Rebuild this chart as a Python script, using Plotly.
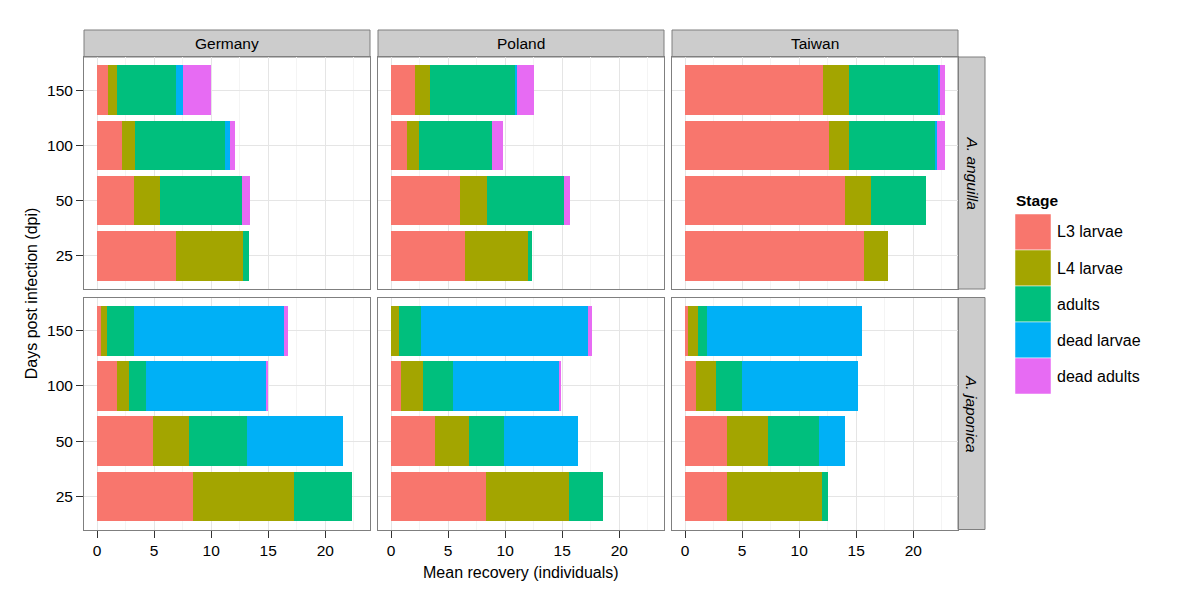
import plotly.graph_objects as go

# ---------------- data ----------------
stages = ["L3 larvae", "L4 larvae", "adults", "dead larvae", "dead adults"]
stage_colors = ["#F8766D", "#A3A500", "#00BF7D", "#00B0F6", "#E76BF3"]
dpi = ["25", "50", "100", "150"]
countries = ["Germany", "Poland", "Taiwan"]
hosts = ["A. anguilla", "A. japonica"]
x_ticks = [0, 5, 10, 15, 20]

# each panel: one list per stage, values for dpi 25, 50, 100, 150
germany_anguilla = [
    [6.95, 3.27, 2.19, 0.93],
    [5.81, 2.28, 1.17, 0.79],
    [0.52, 7.18, 7.88, 5.23],
    [0.00, 0.00, 0.38, 0.55],
    [0.00, 0.70, 0.49, 2.45],
]
poland_anguilla = [
    [6.50, 6.03, 1.43, 2.14],
    [5.54, 2.40, 1.03, 1.29],
    [0.35, 6.77, 6.38, 7.40],
    [0.00, 0.00, 0.00, 0.24],
    [0.00, 0.44, 0.94, 1.43],
]
taiwan_anguilla = [
    [15.64, 14.00, 12.66, 12.05],
    [2.17, 2.26, 1.67, 2.28],
    [0.00, 4.85, 7.63, 7.89],
    [0.00, 0.00, 0.09, 0.08],
    [0.00, 0.00, 0.73, 0.48],
]
germany_japonica = [
    [8.44, 4.90, 1.78, 0.35],
    [8.84, 3.13, 1.02, 0.53],
    [5.08, 5.14, 1.49, 2.36],
    [0.00, 8.38, 10.54, 13.14],
    [0.00, 0.00, 0.09, 0.35],
]
poland_japonica = [
    [8.35, 3.87, 0.85, 0.02],
    [7.23, 2.98, 1.96, 0.65],
    [3.01, 3.08, 2.58, 1.97],
    [0.00, 6.44, 9.37, 14.64],
    [0.00, 0.00, 0.12, 0.35],
]
taiwan_japonica = [
    [3.65, 3.71, 0.96, 0.23],
    [8.31, 3.54, 1.79, 0.94],
    [0.55, 4.45, 2.22, 0.76],
    [0.00, 2.28, 10.21, 13.57],
    [0.00, 0.00, 0.00, 0.00],
]
panels = [
    [germany_anguilla, poland_anguilla, taiwan_anguilla],
    [germany_japonica, poland_japonica, taiwan_japonica],
]

# ---------------- layout geometry (page pixels) ----------------
W, H = 1200, 600
OFF = 8  # page body margin offset
col_px = [(84, 370), (378, 664), (672, 958)]
row_px = [(57, 289), (297.5, 529.5)]
strip_top = (30, 57)
strip_right = (958, 985)
FONT = "Liberation Sans, Arial, Helvetica, sans-serif"

def px_x(v):
    return (v - OFF) / W

def px_y(v):
    return 1 - (v - OFF) / H

fig = go.Figure()
layout_axes = {}
for r in range(2):
    for c in range(3):
        idx = r * 3 + c + 1
        xa = "x" if idx == 1 else f"x{idx}"
        ya = "y" if idx == 1 else f"y{idx}"
        data = panels[r][c]
        for s, stage in enumerate(stages):
            fig.add_trace(go.Bar(
                x=data[s], y=dpi, orientation="h",
                marker=dict(color=stage_colors[s], line=dict(width=0)),
                width=0.9, name=stage, showlegend=False,
                xaxis=xa, yaxis=ya,
            ))
        xkey = "xaxis" if idx == 1 else f"xaxis{idx}"
        ykey = "yaxis" if idx == 1 else f"yaxis{idx}"
        layout_axes[xkey] = dict(
            domain=[px_x(col_px[c][0]), px_x(col_px[c][1])],
            anchor=ya, range=[-1.14, 23.92],
            tickvals=x_ticks, showticklabels=(r == 1),
            ticks="outside" if r == 1 else "", ticklen=7, tickwidth=1, tickcolor="#333333",
            showgrid=True, gridcolor="#e5e5e5", gridwidth=1, zeroline=False,
            minor=dict(tickvals=[2.5, 7.5, 12.5, 17.5, 22.5], showgrid=True,
                       gridcolor="#f4f4f4", gridwidth=1, ticks=""),
            showline=True, mirror=True, linecolor="#7f7f7f", linewidth=1,
            tickfont=dict(family=FONT, size=15.5, color="black"),
            fixedrange=True,
        )
        layout_axes[ykey] = dict(
            domain=[px_y(row_px[r][1]), px_y(row_px[r][0])],
            anchor=xa, type="category", categoryorder="array", categoryarray=dpi,
            range=[-0.6, 3.6], showticklabels=(c == 0),
            ticks="outside" if c == 0 else "", ticklen=7, tickwidth=1, tickcolor="#333333",
            showgrid=True, gridcolor="#e5e5e5", gridwidth=1, zeroline=False,
            showline=True, mirror=True, linecolor="#7f7f7f", linewidth=1,
            tickfont=dict(family=FONT, size=15.5, color="black"),
            fixedrange=True,
        )

shapes = []
annotations = []
# top strips
for c, name in enumerate(countries):
    shapes.append(dict(type="rect", xref="paper", yref="paper",
                       x0=px_x(col_px[c][0]), x1=px_x(col_px[c][1]),
                       y0=px_y(strip_top[1]), y1=px_y(strip_top[0]),
                       fillcolor="#cccccc", line=dict(color="#7f7f7f", width=1), layer="below"))
    annotations.append(dict(text=name, xref="paper", yref="paper",
                            x=(px_x(col_px[c][0]) + px_x(col_px[c][1])) / 2,
                            y=(px_y(strip_top[0]) + px_y(strip_top[1])) / 2,
                            showarrow=False, xanchor="center", yanchor="middle",
                            font=dict(family=FONT, size=15.5, color="black")))
# right strips
for r, name in enumerate(hosts):
    shapes.append(dict(type="rect", xref="paper", yref="paper",
                       x0=px_x(strip_right[0]), x1=px_x(strip_right[1]),
                       y0=px_y(row_px[r][1]), y1=px_y(row_px[r][0]),
                       fillcolor="#cccccc", line=dict(color="#7f7f7f", width=1), layer="below"))
    annotations.append(dict(text=f"<i>{name}</i>", xref="paper", yref="paper",
                            x=(px_x(strip_right[0]) + px_x(strip_right[1])) / 2,
                            y=(px_y(row_px[r][0]) + px_y(row_px[r][1])) / 2,
                            showarrow=False, textangle=90, xanchor="center", yanchor="middle",
                            font=dict(family=FONT, size=15.5, color="black")))

# axis titles
annotations.append(dict(text="Mean recovery (individuals)", xref="paper", yref="paper",
                        x=px_x((84 + 958) / 2), y=px_y(572), showarrow=False,
                        xanchor="center", yanchor="middle",
                        font=dict(family=FONT, size=16, color="black")))
annotations.append(dict(text="Days post infection (dpi)", xref="paper", yref="paper",
                        x=px_x(31), y=px_y((57 + 529.5) / 2), showarrow=False, textangle=-90,
                        xanchor="center", yanchor="middle",
                        font=dict(family=FONT, size=16, color="black")))

# legend (drawn)
annotations.append(dict(text="<b>Stage</b>", xref="paper", yref="paper",
                        x=px_x(1014), y=px_y(200), showarrow=False,
                        xanchor="left", yanchor="middle",
                        font=dict(family=FONT, size=15.5, color="black")))
key_top, key_h = 214, 36
for s, stage in enumerate(stages):
    y0 = key_top + s * key_h
    shapes.append(dict(type="rect", xref="paper", yref="paper",
                       x0=px_x(1015), x1=px_x(1051),
                       y0=px_y(y0 + key_h), y1=px_y(y0),
                       fillcolor=stage_colors[s], line=dict(color="white", width=0.5)))
    annotations.append(dict(text=stage, xref="paper", yref="paper",
                            x=px_x(1055), y=px_y(y0 + key_h / 2), showarrow=False,
                            xanchor="left", yanchor="middle",
                            font=dict(family=FONT, size=16, color="black")))

fig.update_layout(
    width=W, height=H, autosize=False,
    margin=dict(l=0, r=0, t=0, b=0),
    paper_bgcolor="white", plot_bgcolor="white",
    barmode="stack", bargap=0.1,
    shapes=shapes, annotations=annotations,
    font=dict(family=FONT, color="black"),
    **layout_axes,
)

fig.write_html("out.html")
